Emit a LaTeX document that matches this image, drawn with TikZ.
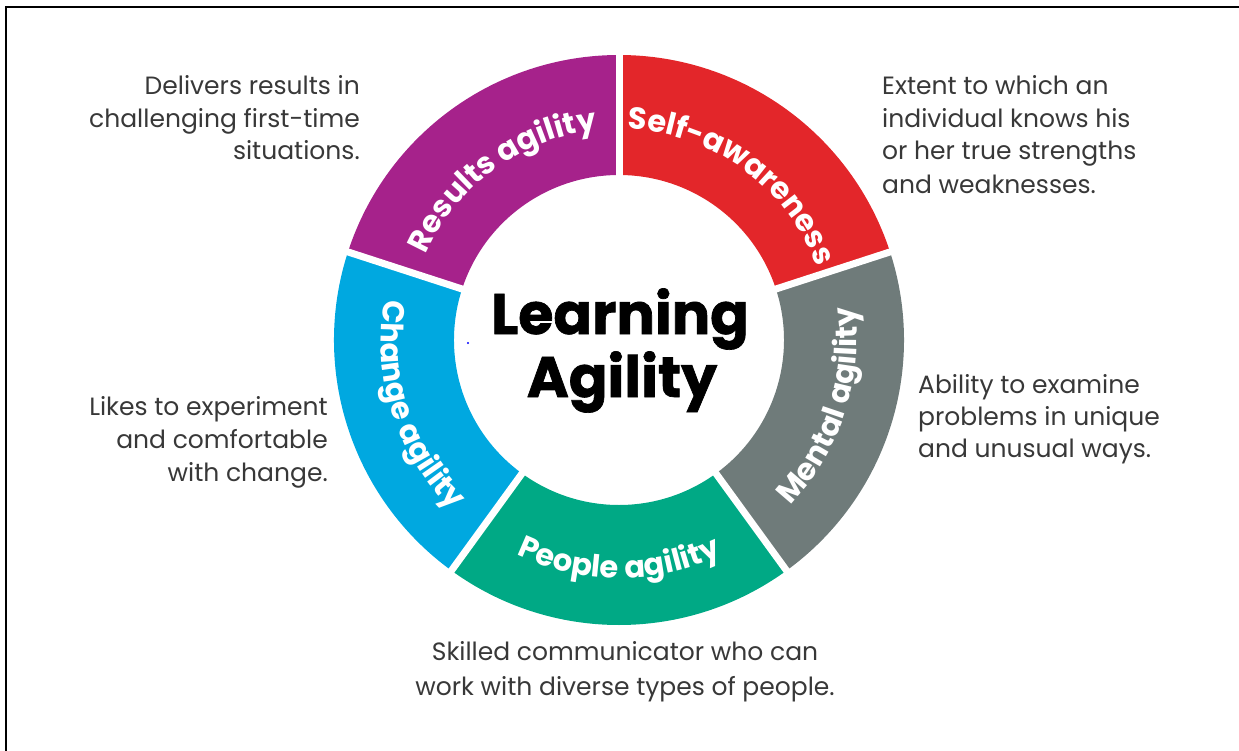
\documentclass[tikz,border=0pt]{standalone}
\usepackage{fontspec}
\setmainfont{Poppins}
\newfontfamily\heavyfont[BoldFeatures={FakeBold=1.2}]{Poppins}
\usetikzlibrary{decorations.text}
\definecolor{cpurple}{HTML}{A6228B}
\definecolor{cred}{HTML}{E3262A}
\definecolor{cgray}{HTML}{6F7B7A}
\definecolor{cgreen}{HTML}{00A985}
\definecolor{cblue}{HTML}{00A8E0}
\definecolor{ctext}{HTML}{383838}
\begin{document}
\begin{tikzpicture}[x=1pt,y=1pt,
  desc/.style={text=ctext, font=\fontsize{25}{25}\selectfont, inner sep=0pt},
  seglabel/.style={decorate, decoration={text along path, text align=center,
     text={|\color{white}\fontsize{30.5}{30.5}\selectfont\bfseries|#1}}},
  gap/.style={white, line width=7pt},
  centre/.style={text=black, font=\heavyfont\bfseries\fontsize{57}{57}\selectfont, inner sep=0pt}
]
\useasboundingbox (-619,-410) rectangle (620,340);
% frame
\draw[line width=2.5pt] (-613,-412) -- (-613,333) -- (622,333);
% ring sectors
\def\rin{165}
\def\rout{285}
\fill[cred]    (18:\rin) arc[start angle=18,end angle=90,radius=\rin] -- (90:\rout) arc[start angle=90,end angle=18,radius=\rout] -- cycle;
\fill[cpurple] (90:\rin) arc[start angle=90,end angle=162,radius=\rin] -- (162:\rout) arc[start angle=162,end angle=90,radius=\rout] -- cycle;
\fill[cblue]   (162:\rin) arc[start angle=162,end angle=234,radius=\rin] -- (234:\rout) arc[start angle=234,end angle=162,radius=\rout] -- cycle;
\fill[cgreen]  (234:\rin) arc[start angle=234,end angle=306,radius=\rin] -- (306:\rout) arc[start angle=306,end angle=234,radius=\rout] -- cycle;
\fill[cgray]   (-54:\rin) arc[start angle=-54,end angle=18,radius=\rin] -- (18:\rout) arc[start angle=18,end angle=-54,radius=\rout] -- cycle;
\foreach \a in {18,90,162,234,306} \draw[gap] (\a:150) -- (\a:300);
% segment labels
\path[seglabel={Results agility}] (162:211) arc[start angle=162,end angle=90,radius=211];
\path[seglabel={Self-awareness}] (90:211) arc[start angle=90,end angle=18,radius=211];
\path[seglabel={Mental agility}] (-54:238) arc[start angle=-54,end angle=18,radius=238];
\path[seglabel={People agility}] (234:238) arc[start angle=234,end angle=306,radius=238];
\path[seglabel={Change agility}] (162:238) arc[start angle=162,end angle=234,radius=238];
% centre
\node[centre, anchor=base] (t1) at (1,6) {Learning};
\node[centre, anchor=base] (t2) at (3,-57) {Agility};
\fill[blue] (-151,-3) circle (1.2);
% descriptions
\node[desc, anchor=base east] (r1) at (-259,245) {Delivers results in};
\node[desc, anchor=base east] (r2) at (-259,212.5) {challenging first-time};
\node[desc, anchor=base east] (r3) at (-259,180) {situations.};
\node[desc, anchor=base west] (s1) at (263,245) {Extent to which an};
\node[desc, anchor=base west] (s2) at (263,212.5) {individual knows his};
\node[desc, anchor=base west] (s3) at (263,180) {or her true strengths};
\node[desc, anchor=base west] (s4) at (263,147) {and weaknesses.};
\node[desc, anchor=base west] (m1) at (299,-53) {Ability to examine};
\node[desc, anchor=base west] (m2) at (299,-85.5) {problems in unique};
\node[desc, anchor=base west] (m3) at (299,-117) {and unusual ways.};
\node[desc, anchor=base east] (c1) at (-291,-75) {Likes to experiment};
\node[desc, anchor=base east] (c2) at (-291,-108) {and comfortable};
\node[desc, anchor=base east] (c3) at (-291,-141) {with change.};
\node[desc, anchor=base] (p1) at (6,-320) {Skilled communicator who can};
\node[desc, anchor=base] (p2) at (6,-355) {work with diverse types of people.};
\end{tikzpicture}
\end{document}
